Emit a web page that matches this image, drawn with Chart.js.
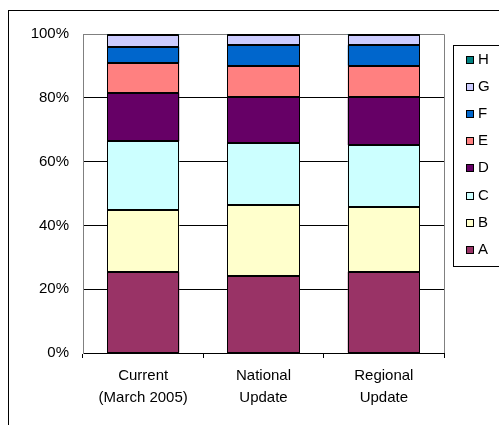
<!DOCTYPE html>
<html>
<head>
<meta charset="utf-8">
<script src="https://cdn.jsdelivr.net/npm/chart.js@4/dist/chart.umd.min.js"></script>
<style>
  html, body { margin: 0; padding: 0; background: #ffffff; }
  #wrap { width: 499px; height: 425px; position: relative; }
</style>
</head>
<body>
<div id="wrap"><canvas id="c" width="499" height="425"></canvas></div>
<script>
// Categories (scenarios) and share of each group, in percent
const categories = [["Current", "(March 2005)"], ["National", "Update"], ["Regional", "Update"]];
const seriesNames = ["A", "B", "C", "D", "E", "F", "G", "H"];
const seriesA = [25.5, 24.1, 25.5];
const seriesB = [19.3, 22.3, 20.4];
const seriesC = [21.6, 19.5, 19.3];
const seriesD = [15.0, 14.4, 15.0];
const seriesE = [9.4, 9.8, 9.9];
const seriesF = [5.2, 6.4, 6.4];
const seriesG = [3.7, 3.2, 3.2];
const seriesH = [0.3, 0.3, 0.3];
const yTicks = [0, 20, 40, 60, 80, 100];

const seriesValues = [seriesA, seriesB, seriesC, seriesD, seriesE, seriesF, seriesG, seriesH];
const seriesColors = ["#993366", "#FFFFCC", "#CCFFFF", "#660066", "#FF8080", "#0066CC", "#CCCCFF", "#008080"];

const FONT = "'Liberation Sans', Arial, sans-serif";

// Outer frame, plot-area border, crisp segment outlines and the boxed legend
const framePlugin = {
  id: "frame",
  beforeDraw(chart) {
    const ctx = chart.ctx;
    ctx.save();
    ctx.fillStyle = "#ffffff";
    ctx.fillRect(0, 0, chart.width, chart.height);
    ctx.strokeStyle = "#000000";
    ctx.lineWidth = 1;
    ctx.strokeRect(8.5, 10.5, 600, 600);
    ctx.restore();
  },
  beforeDatasetsDraw(chart) {
    const ctx = chart.ctx;
    const a = chart.chartArea;
    ctx.save();
    ctx.strokeStyle = "#808080";
    ctx.lineWidth = 1;
    ctx.beginPath();
    ctx.moveTo(Math.round(a.left) + 0.5, Math.round(a.bottom));
    ctx.lineTo(Math.round(a.left) + 0.5, Math.round(a.top) + 0.5);
    ctx.lineTo(Math.round(a.right) + 0.5, Math.round(a.top) + 0.5);
    ctx.lineTo(Math.round(a.right) + 0.5, Math.round(a.bottom));
    ctx.stroke();
    ctx.restore();
  },
  afterDatasetsDraw(chart) {
    // outline every stacked segment on whole pixels so seams stay sharp
    const ctx = chart.ctx;
    ctx.save();
    ctx.strokeStyle = "#000000";
    ctx.lineWidth = 1;
    chart.data.datasets.forEach((d, i) => {
      chart.getDatasetMeta(i).data.forEach((bar) => {
        const p = bar.getProps(["x", "y", "base", "width"], true);
        const l = Math.round(p.x - p.width / 2) + 0.5;
        const r = Math.round(p.x + p.width / 2) - 0.5;
        const t = Math.round(Math.min(p.y, p.base)) + 0.5;
        const b = Math.round(Math.max(p.y, p.base)) - 0.5;
        ctx.strokeRect(l, t, r - l, Math.max(b - t, 0));
      });
    });
    ctx.restore();
  },
  afterDraw(chart) {
    const ctx = chart.ctx;
    ctx.save();
    ctx.strokeStyle = "#000000";
    ctx.lineWidth = 1;
    ctx.strokeRect(453.5, 45.5, 100, 221);
    ctx.font = "15px " + FONT;
    ctx.textBaseline = "middle";
    ctx.textAlign = "left";
    const ds = chart.data.datasets;
    for (let i = 0; i < ds.length; i++) {
      const d = ds[ds.length - 1 - i];
      const cy = Math.round(60 + i * 27.1);
      ctx.fillStyle = d.backgroundColor;
      ctx.fillRect(466, cy - 4, 8, 8);
      ctx.strokeRect(466.5, cy - 3.5, 7, 7);
      ctx.fillStyle = "#000000";
      ctx.fillText(d.label, 478, cy);
    }
    ctx.restore();
  }
};

const datasets = seriesNames.map((name, i) => ({
  label: name,
  data: seriesValues[i],
  backgroundColor: seriesColors[i],
  borderWidth: 0,
  categoryPercentage: 1.0,
  barPercentage: 0.6
}));

new Chart(document.getElementById("c"), {
  type: "bar",
  data: { labels: categories, datasets },
  options: {
    responsive: false,
    animation: false,
    devicePixelRatio: 1,
    layout: { padding: { left: 0, top: 34, right: 55, bottom: 0 } },
    plugins: { legend: { display: false }, tooltip: { enabled: false } },
    scales: {
      x: {
        stacked: true,
        grid: { offset: true, drawOnChartArea: false, drawTicks: true, tickLength: 5, color: "#000000" },
        border: { display: true, color: "#000000", width: 1 },
        ticks: { color: "#000000", font: { family: FONT, size: 15, lineHeight: 1.45 }, padding: 7, maxRotation: 0 },
        afterFit(s) { s.height = 72; }
      },
      y: {
        stacked: true,
        min: 0,
        max: 100,
        afterBuildTicks(s) { s.ticks = yTicks.map(v => ({ value: v })); },
        grid: {
          drawTicks: false,
          color: (c) => (c.tick && c.tick.value === 100 ? "#808080" : "#000000")
        },
        border: { display: true, color: "#808080", width: 1 },
        ticks: { color: "#000000", font: { family: FONT, size: 15 }, padding: 14, callback: (v) => v + "%" },
        afterFit(s) { s.width = 83; }
      }
    }
  },
  plugins: [framePlugin]
});
</script>
</body>
</html>
